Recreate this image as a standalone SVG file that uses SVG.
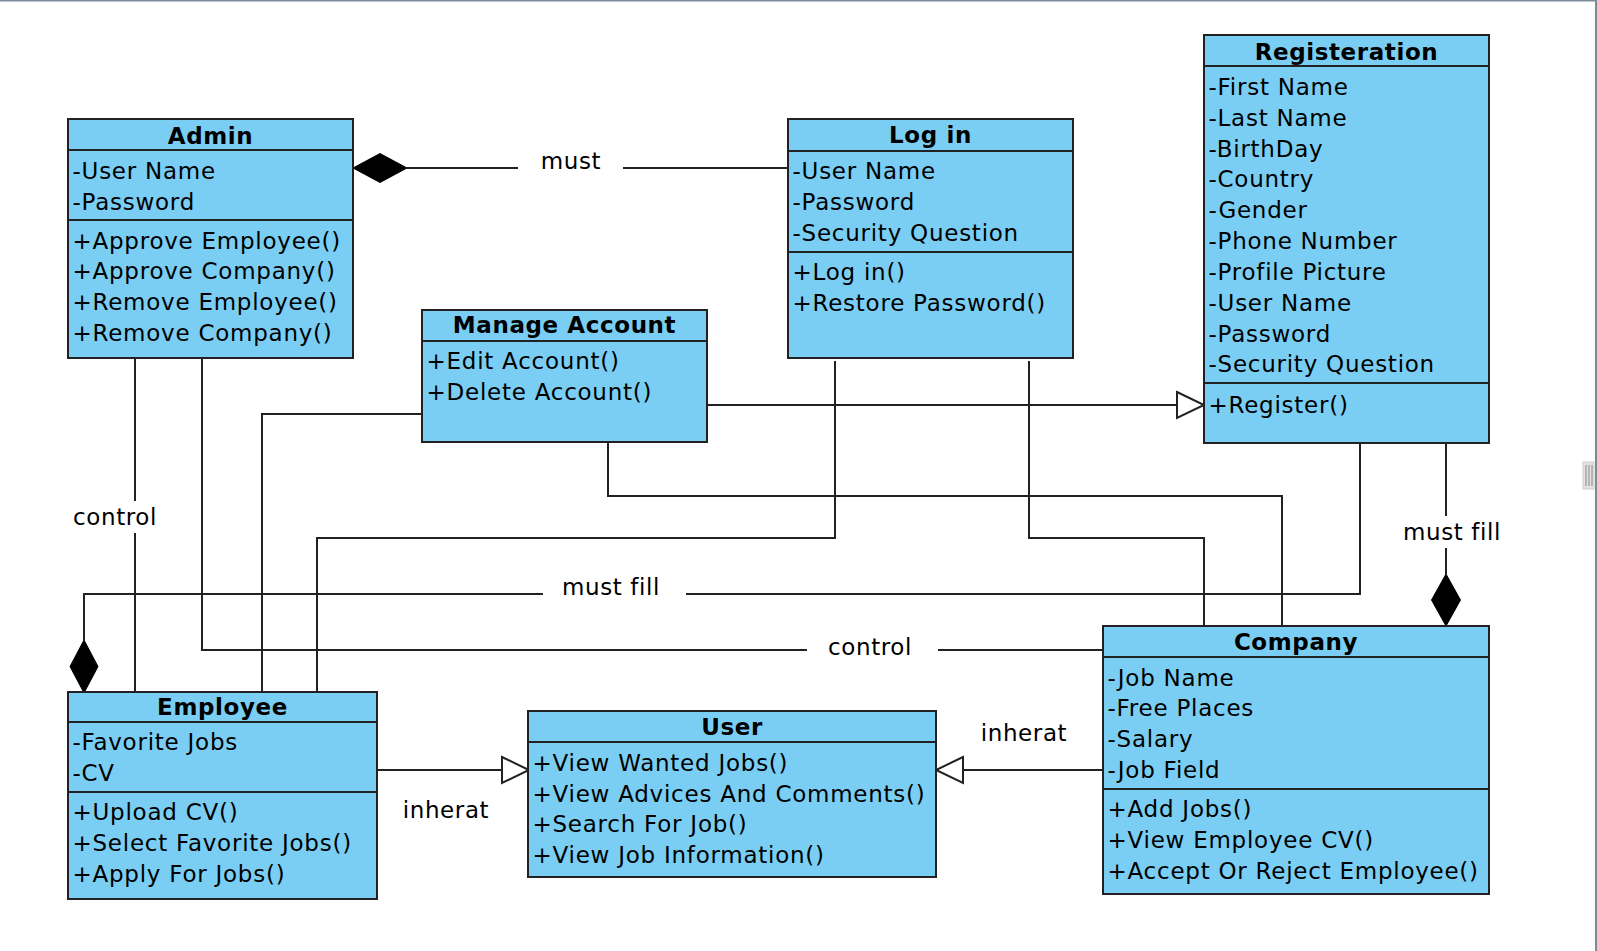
<svg xmlns="http://www.w3.org/2000/svg" width="1597" height="951" viewBox="0 0 1597 951">
<style>
.box{fill:#7acef4;stroke:#222;stroke-width:2}
.sep{stroke:#222;stroke-width:2}
.t{font-family:"DejaVu Sans",sans-serif;font-size:23px;letter-spacing:0.75px;fill:#000}
.h{font-family:"DejaVu Sans",sans-serif;font-size:23px;font-weight:bold;letter-spacing:0.6px;fill:#000;text-anchor:middle}
.c{fill:none;stroke:#222;stroke-width:2}
.lbl{font-family:"DejaVu Sans",sans-serif;font-size:23px;letter-spacing:0.6px;fill:#000;text-anchor:middle}
.dia{fill:#000;stroke:#000;stroke-width:1}
.tri{fill:#fff;stroke:#222;stroke-width:2}
</style>
<rect width="1597" height="951" fill="#fff"/>
<line x1="0" y1="0.75" x2="1597" y2="0.75" stroke="#7b8b9b" stroke-width="1.5"/>
<line x1="1596" y1="0" x2="1596" y2="951" stroke="#7b8b9b" stroke-width="2"/>
<rect x="1583" y="462" width="11" height="27" fill="#e2e2e2" stroke="#cfcfcf" stroke-width="1"/>
<line x1="1586" y1="465" x2="1586" y2="486" stroke="#888" stroke-width="1"/>
<line x1="1589" y1="465" x2="1589" y2="486" stroke="#888" stroke-width="1"/>
<line x1="1592" y1="465" x2="1592" y2="486" stroke="#888" stroke-width="1"/>

<g id="connectors">
  <!-- Admin - Log in (must) -->
  <line class="c" x1="407" y1="168" x2="518" y2="168"/>
  <line class="c" x1="623" y1="168" x2="788" y2="168"/>
  <polygon class="dia" points="353,168 380,153.5 407,168 380,182.5"/>
  <text class="lbl" x="571" y="169">must</text>
  <!-- Admin - Employee (control) -->
  <line class="c" x1="135" y1="358" x2="135" y2="501"/>
  <line class="c" x1="135" y1="533" x2="135" y2="692"/>
  <text class="lbl" x="115" y="525">control</text>
  <!-- Admin - Company (control) -->
  <polyline class="c" points="202,358 202,650 807,650"/>
  <line class="c" x1="938" y1="650" x2="1103" y2="650"/>
  <text class="lbl" x="870" y="655">control</text>
  <!-- Manage Account - Employee -->
  <polyline class="c" points="422,414 262,414 262,692"/>
  <!-- Log in - Employee -->
  <polyline class="c" points="835,361 835,538 317,538 317,692"/>
  <!-- Log in - Company -->
  <polyline class="c" points="1029,361 1029,538 1204,538 1204,626"/>
  <!-- Manage Account - Company -->
  <polyline class="c" points="608,442 608,496 1282,496 1282,626"/>
  <!-- Manage Account -> Registeration -->
  <line class="c" x1="708" y1="405" x2="1177" y2="405"/>
  <polygon class="tri" points="1177,392 1204,405 1177,418"/>
  <!-- Registeration - Employee (must fill) -->
  <polyline class="c" points="1360,443 1360,594 686,594"/>
  <polyline class="c" points="543,594 84,594 84,640"/>
  <polygon class="dia" points="84,640 98,666.5 84,693 70,666.5"/>
  <text class="lbl" x="611" y="595">must fill</text>
  <!-- Registeration - Company (must fill) -->
  <line class="c" x1="1446" y1="443" x2="1446" y2="516"/>
  <line class="c" x1="1446" y1="548" x2="1446" y2="574"/>
  <polygon class="dia" points="1446,574 1460.5,600 1446,626 1431.5,600"/>
  <text class="lbl" x="1452" y="540">must fill</text>
  <!-- Employee -> User -->
  <line class="c" x1="377" y1="770" x2="502" y2="770"/>
  <polygon class="tri" points="502,757 529,770 502,783"/>
  <text class="lbl" x="446" y="818">inherat</text>
  <!-- Company -> User -->
  <line class="c" x1="1103" y1="770" x2="963" y2="770"/>
  <polygon class="tri" points="963,757 936,770 963,783"/>
  <text class="lbl" x="1024" y="741">inherat</text>
</g>

<g id="admin">
  <rect class="box" x="68" y="119" width="285" height="239"/>
  <line class="sep" x1="68" y1="150" x2="353" y2="150"/>
  <line class="sep" x1="68" y1="220" x2="353" y2="220"/>
  <text class="h" x="210.5" y="144">Admin</text>
  <text class="t" x="72.5" y="179">-User Name</text>
  <text class="t" x="72.5" y="210">-Password</text>
  <text class="t" x="72.5" y="249">+Approve Employee()</text>
  <text class="t" x="72.5" y="279">+Approve Company()</text>
  <text class="t" x="72.5" y="310">+Remove Employee()</text>
  <text class="t" x="72.5" y="341">+Remove Company()</text>
</g>

<g id="login">
  <rect class="box" x="788" y="119" width="285" height="239"/>
  <line class="sep" x1="788" y1="151" x2="1073" y2="151"/>
  <line class="sep" x1="788" y1="252" x2="1073" y2="252"/>
  <text class="h" x="930.5" y="143">Log in</text>
  <text class="t" x="792.5" y="179">-User Name</text>
  <text class="t" x="792.5" y="210">-Password</text>
  <text class="t" x="792.5" y="241">-Security Question</text>
  <text class="t" x="792.5" y="280">+Log in()</text>
  <text class="t" x="792.5" y="311">+Restore Password()</text>
</g>

<g id="manage-account">
  <rect class="box" x="422" y="310" width="285" height="132"/>
  <line class="sep" x1="422" y1="341" x2="707" y2="341"/>
  <text class="h" x="564.5" y="333">Manage Account</text>
  <text class="t" x="426.5" y="369">+Edit Account()</text>
  <text class="t" x="426.5" y="400">+Delete Account()</text>
</g>

<g id="registeration">
  <rect class="box" x="1204" y="35" width="285" height="408"/>
  <line class="sep" x1="1204" y1="66" x2="1489" y2="66"/>
  <line class="sep" x1="1204" y1="383" x2="1489" y2="383"/>
  <text class="h" x="1346.5" y="60">Registeration</text>
  <text class="t" x="1208.5" y="95">-First Name</text>
  <text class="t" x="1208.5" y="126">-Last Name</text>
  <text class="t" x="1208.5" y="157">-BirthDay</text>
  <text class="t" x="1208.5" y="187">-Country</text>
  <text class="t" x="1208.5" y="218">-Gender</text>
  <text class="t" x="1208.5" y="249">-Phone Number</text>
  <text class="t" x="1208.5" y="280">-Profile Picture</text>
  <text class="t" x="1208.5" y="311">-User Name</text>
  <text class="t" x="1208.5" y="342">-Password</text>
  <text class="t" x="1208.5" y="372">-Security Question</text>
  <text class="t" x="1208.5" y="413">+Register()</text>
</g>

<g id="employee">
  <rect class="box" x="68" y="692" width="309" height="207"/>
  <line class="sep" x1="68" y1="722" x2="377" y2="722"/>
  <line class="sep" x1="68" y1="792" x2="377" y2="792"/>
  <text class="h" x="222.5" y="715">Employee</text>
  <text class="t" x="72.5" y="750">-Favorite Jobs</text>
  <text class="t" x="72.5" y="781">-CV</text>
  <text class="t" x="72.5" y="820">+Upload CV()</text>
  <text class="t" x="72.5" y="851">+Select Favorite Jobs()</text>
  <text class="t" x="72.5" y="882">+Apply For Jobs()</text>
</g>

<g id="user">
  <rect class="box" x="528" y="711" width="408" height="166"/>
  <line class="sep" x1="528" y1="742" x2="936" y2="742"/>
  <text class="h" x="732" y="735">User</text>
  <text class="t" x="532.5" y="771">+View Wanted Jobs()</text>
  <text class="t" x="532.5" y="802">+View Advices And Comments()</text>
  <text class="t" x="532.5" y="832">+Search For Job()</text>
  <text class="t" x="532.5" y="863">+View Job Information()</text>
</g>

<g id="company">
  <rect class="box" x="1103" y="626" width="386" height="268"/>
  <line class="sep" x1="1103" y1="657" x2="1489" y2="657"/>
  <line class="sep" x1="1103" y1="789" x2="1489" y2="789"/>
  <text class="h" x="1296" y="650">Company</text>
  <text class="t" x="1107.5" y="686">-Job Name</text>
  <text class="t" x="1107.5" y="716">-Free Places</text>
  <text class="t" x="1107.5" y="747">-Salary</text>
  <text class="t" x="1107.5" y="778">-Job Field</text>
  <text class="t" x="1107.5" y="817">+Add Jobs()</text>
  <text class="t" x="1107.5" y="848">+View Employee CV()</text>
  <text class="t" x="1107.5" y="879">+Accept Or Reject Employee()</text>
</g>
</svg>
